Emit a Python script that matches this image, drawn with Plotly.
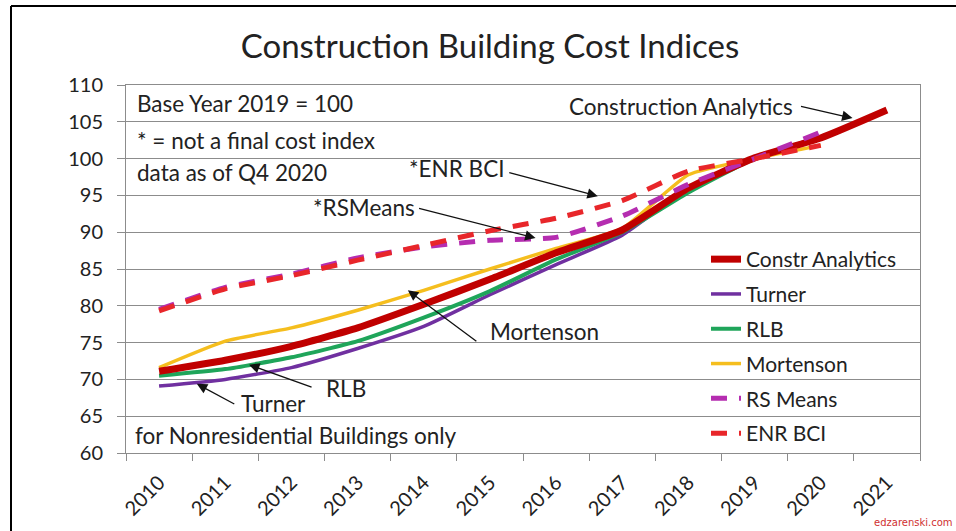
import plotly.graph_objects as go

years = [str(y) for y in range(2010, 2022)]

constr_analytics = [71.1, 72.6, 74.5, 77.0, 80.2, 83.6, 87.2, 90.3, 96.0, 100.1, 102.8, 106.6]
turner = [69.1, 70.0, 71.6, 74.2, 77.2, 81.5, 85.6, 89.6, 96.0, 100.0, 103.0]
rlb = [70.5, 71.4, 73.0, 75.2, 78.4, 82.0, 86.3, 90.0, 95.4, 100.0, 102.8]
mortenson = [71.6, 75.2, 77.0, 79.4, 82.1, 85.0, 87.8, 90.5, 97.8, 100.0, 101.8]
rs_means = [79.5, 82.5, 84.3, 86.5, 88.0, 88.9, 89.3, 92.2, 96.5, 100.0, 103.6]
enr_bci = [79.3, 82.3, 84.1, 86.2, 88.2, 90.2, 91.9, 94.3, 98.3, 100.0, 101.8]

y_ticks = list(range(60, 111, 5))

FONT = "Lato"
W, H = 956, 531
ML, MR, MT, MB = 126, 36, 85, 78
PW, PH = W - ML - MR, H - MT - MB


def px(x):
    return (x - ML) / PW


def py(y):
    return (H - MB - y) / PH


fig = go.Figure()

series = [
    ("Turner", turner, "#7030A0", 3.5, "solid", 2),
    ("RLB", rlb, "#1FA55A", 4, "solid", 3),
    ("Mortenson", mortenson, "#F5BE1E", 3.5, "solid", 4),
    ("Constr Analytics", constr_analytics, "#C00000", 7, "solid", 1),
    ("RS Means", rs_means, "#B52DB0", 5, "16px,12px", 5),
    ("ENR BCI", enr_bci, "#E8262A", 5, "16px,12px", 6),
]

for name, vals, color, width, dash, rank in series:
    fig.add_trace(go.Scatter(
        x=years[:len(vals)], y=vals, name=name, mode="lines",
        line=dict(color=color, width=width, dash=dash, shape="spline", smoothing=0.5),
        legendrank=rank, legendgroup=name,
    ))

fig.update_layout(
    width=W, height=H,
    margin=dict(l=ML, r=MR, t=MT, b=MB),
    paper_bgcolor="white", plot_bgcolor="white",
    font=dict(family=FONT, size=20, color="#222"),
    title=dict(text="Construction Building Cost Indices", x=490 / W, xanchor="center",
               y=1 - 46 / H, yanchor="middle", font=dict(family=FONT, size=33, color="#222")),
    showlegend=True,
    legend=dict(x=px(706), y=py(239), xanchor="left", yanchor="top",
                bgcolor="rgba(0,0,0,0)", font=dict(family=FONT, size=21, color="#222"),
                tracegroupgap=4.5, itemwidth=30),
    xaxis=dict(type="category", categoryorder="array", categoryarray=years,
               range=[-0.5, 11.5], tickson="boundaries", ticks="outside", ticklen=7,
               tickcolor="#8c8c8c", showline=True, linecolor="#8c8c8c", mirror=True,
               tickangle=-45, showgrid=False, tickfont=dict(size=20), ticklabelstandoff=9),
    yaxis=dict(range=[60, 110], tickvals=y_ticks, ticks="outside", ticklen=8,
               tickcolor="#8c8c8c", showline=True, linecolor="#8c8c8c", mirror=True,
               gridcolor="#8c8c8c", gridwidth=1, zeroline=False, tickfont=dict(size=20),
               ticklabelstandoff=10),
)

# Text notes
notes = [
    ("Base Year 2019 = 100", 135, 103, "left"),
    ("* = not a final cost index", 135, 140, "left"),
    ("data as of Q4 2020", 135, 172, "left"),
    ("for Nonresidential Buildings only", 133, 435, "left"),
    ("Construction Analytics", 795, 106, "right"),
    ("*ENR BCI", 506, 168, "right"),
    ("*RSMeans", 417, 207, "right"),
    ("Mortenson", 488, 331, "left"),
    ("RLB", 324, 388, "left"),
    ("Turner", 239, 403, "left"),
]
for text, x, y, anchor in notes:
    fig.add_annotation(text=text, x=px(x), y=py(y), xref="paper", yref="paper",
                       xanchor=anchor, yanchor="middle", showarrow=False,
                       font=dict(family=FONT, size=22.5, color="#222"))

# Arrows (tip in data coords, tail offset in pixels)
arrows = [
    (10.48, 105.5, -53, -12),
    (6.63, 94.9, -90, -24),
    (5.69, 89.2, -118, -30),
    (3.76, 82.1, 70, 52),
    (1.36, 72.0, 64, 23),
    (0.57, 69.4, 39, 21),
]
for xi, yv, ax, ay in arrows:
    fig.add_annotation(text="", x=xi, y=yv, xref="x", yref="y", ax=ax, ay=ay,
                       showarrow=True, arrowhead=2, arrowsize=1.6, arrowwidth=1.3,
                       arrowcolor="#111", standoff=0)

fig.add_annotation(text="edzarenski.com", x=px(955), y=py(522), xref="paper", yref="paper",
                   xanchor="right", yanchor="middle", showarrow=False,
                   font=dict(family="DejaVu Sans", size=10, color="#d03030"))

# Outer frame (top and left)
fig.add_shape(type="line", xref="paper", yref="paper", x0=px(11), x1=px(956), y0=py(6), y1=py(6),
              line=dict(color="black", width=2))
fig.add_shape(type="line", xref="paper", yref="paper", x0=px(11), x1=px(11), y0=py(6), y1=py(531),
              line=dict(color="black", width=2))

fig.write_html("out.html")
